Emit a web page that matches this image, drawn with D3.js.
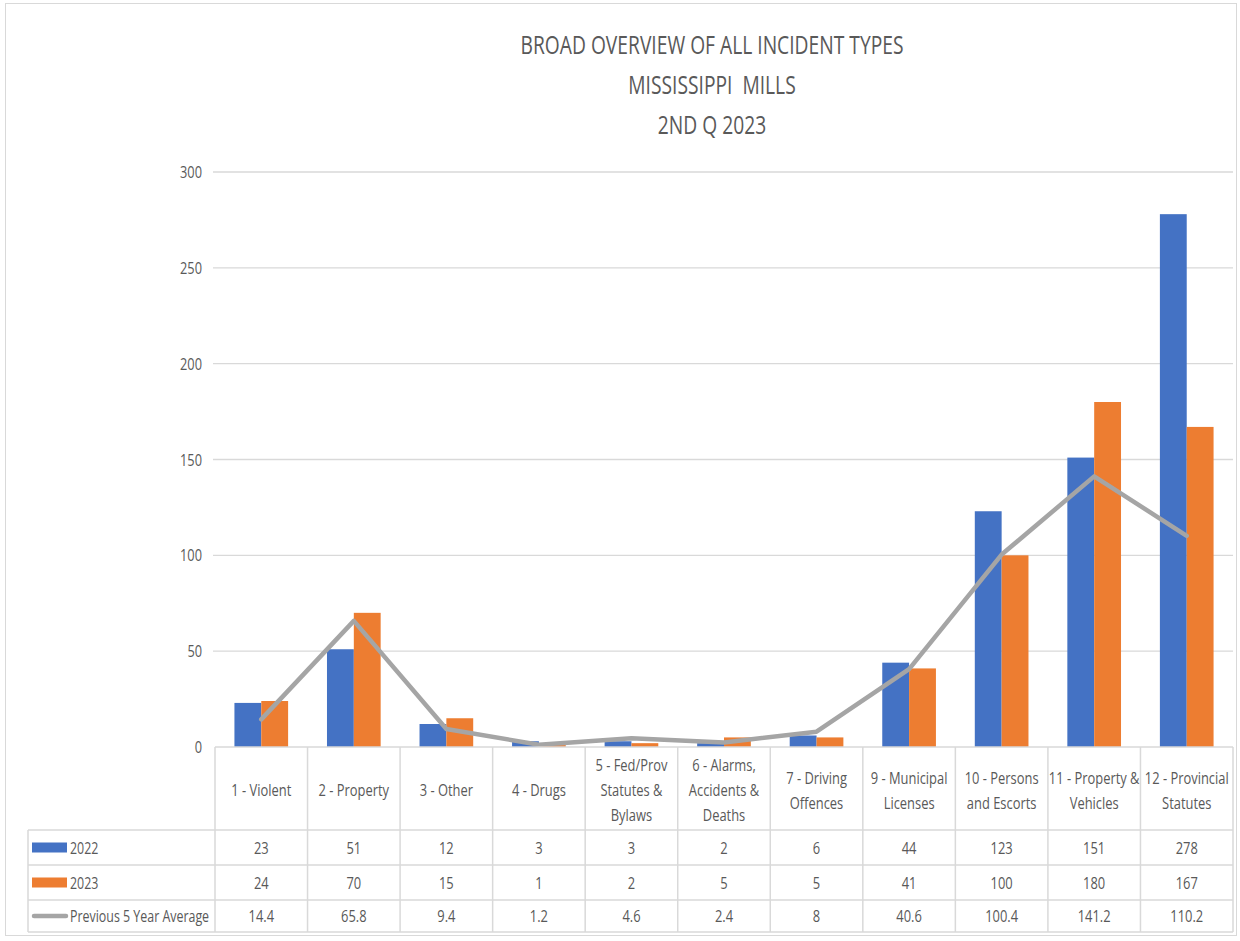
<!DOCTYPE html>
<html><head><meta charset="utf-8">
<script src="https://cdn.jsdelivr.net/npm/d3@7/dist/d3.min.js"></script>
<style>
body{margin:0;background:#fff;}
text{font-family:"Open Sans","Noto Sans",sans-serif;fill:#595959;}
</style></head><body>
<svg id="c" width="1240" height="941"></svg>
<script>
const categories = [["1 - Violent"],["2 - Property"],["3 - Other"],["4 - Drugs"],["5 - Fed/Prov","Statutes &","Bylaws"],["6 - Alarms,","Accidents &","Deaths"],["7 - Driving","Offences"],["9 - Municipal","Licenses"],["10 - Persons","and Escorts"],["11 - Property &","Vehicles"],["12 - Provincial","Statutes"]];
const values2022 = [23,51,12,3,3,2,6,44,123,151,278];
const values2023 = [24,70,15,1,2,5,5,41,100,180,167];
const avg5 = [14.4,65.8,9.4,1.2,4.6,2.4,8,40.6,100.4,141.2,110.2];
const avgLabels = ["14.4","65.8","9.4","1.2","4.6","2.4","8","40.6","100.4","141.2","110.2"];
const yTicks = [0,50,100,150,200,250,300];
const seriesNames = ["2022","2023","Previous 5 Year Average"];
const titleLines = ["BROAD OVERVIEW OF ALL INCIDENT TYPES","MISSISSIPPI  MILLS","2ND Q 2023"];
const colors = ["#4472C4","#ED7D31","#A5A5A5"];

const svg = d3.select("#c");
const pLeft = 215, pRight = 1233, pTop = 172, pBottom = 747;
const x = d3.scaleBand().domain(d3.range(categories.length)).range([pLeft,pRight]).padding(0);
const y = d3.scaleLinear().domain([0,300]).range([pBottom,pTop]);
const bw = x.bandwidth();
const barW = bw*0.29;
const grid = "#d9d9d9";

function txt(parent, t, tx, ty, size, anchor, sx){
  return parent.append("text")
    .attr("transform", `translate(${tx},${ty}) scale(${sx||0.77},1)`)
    .attr("text-anchor", anchor||"middle")
    .attr("font-size", size)
    .style("white-space","pre")
    .text(t);
}

// outer border
svg.append("rect").attr("x",5.5).attr("y",3.5).attr("width",1231).attr("height",932).attr("fill","none").attr("stroke",grid);

// title
titleLines.forEach((t,i)=>txt(svg,t,712,54+i*40,26,"middle",0.74));

// grid
svg.selectAll("line.grid").data(yTicks.filter(d=>d>0)).enter().append("line")
  .attr("x1",pLeft-2).attr("x2",pRight).attr("y1",d=>y(d)).attr("y2",d=>y(d))
  .attr("stroke",grid).attr("stroke-width",1.3);
yTicks.forEach(d=>txt(svg,String(d),202,y(d)+6,16,"end",0.8));

// bars
const g = svg.append("g");
g.selectAll("rect.b22").data(values2022).enter().append("rect")
  .attr("x",(d,i)=>x(i)+bw/2-barW).attr("width",barW)
  .attr("y",d=>y(d)).attr("height",d=>pBottom-y(d)).attr("fill",colors[0]);
g.selectAll("rect.b23").data(values2023).enter().append("rect")
  .attr("x",(d,i)=>x(i)+bw/2).attr("width",barW)
  .attr("y",d=>y(d)).attr("height",d=>pBottom-y(d)).attr("fill",colors[1]);

// line
const line = d3.line().x((d,i)=>x(i)+bw/2).y(d=>y(d));
g.append("path").datum(avg5).attr("d",line).attr("fill","none")
  .attr("stroke",colors[2]).attr("stroke-width",4.5).attr("stroke-linejoin","round").attr("stroke-linecap","round");

// data table
const rowY = [747,830,865,900,932];
const tableLeft = 28;
const tb = svg.append("g");
tb.append("line").attr("x1",pLeft).attr("x2",pRight).attr("y1",rowY[0]).attr("y2",rowY[0]).attr("stroke",grid).attr("stroke-width",1.5);
[1,2,3,4].forEach(k=>{
  tb.append("line").attr("x1",tableLeft).attr("x2",pRight).attr("y1",rowY[k]).attr("y2",rowY[k]).attr("stroke",grid).attr("stroke-width",1.5);
});
d3.range(categories.length+1).forEach(i=>{
  const xx = i<categories.length ? x(i) : pRight;
  tb.append("line").attr("x1",xx).attr("x2",xx).attr("y1",rowY[0]).attr("y2",rowY[4]).attr("stroke",grid).attr("stroke-width",1.5);
});
tb.append("line").attr("x1",tableLeft).attr("x2",tableLeft).attr("y1",rowY[1]).attr("y2",rowY[4]).attr("stroke",grid).attr("stroke-width",1.5);

categories.forEach((lines,i)=>{
  const cy = 790, lh = 25;
  const start = cy - (lines.length-1)*lh/2;
  lines.forEach((t,j)=>txt(tb,t,x(i)+bw/2,start+j*lh+6,17,"middle",0.76));
});
const rows = [values2022.map(String), values2023.map(String), avgLabels];
rows.forEach((r,k)=>{
  const cy = (rowY[k+1]+rowY[k+2])/2;
  r.forEach((v,i)=>txt(tb,v,x(i)+bw/2,cy+6,17,"middle",0.76));
  if(k<2){
    tb.append("rect").attr("x",32).attr("y",cy-5).attr("width",35).attr("height",10).attr("fill",colors[k]);
  } else {
    tb.append("line").attr("x1",34).attr("x2",66).attr("y1",cy).attr("y2",cy).attr("stroke",colors[2]).attr("stroke-width",4.5).attr("stroke-linecap","round");
  }
  txt(tb,seriesNames[k],70,cy+6,17,"start",0.73);
});
</script>
</body></html>
